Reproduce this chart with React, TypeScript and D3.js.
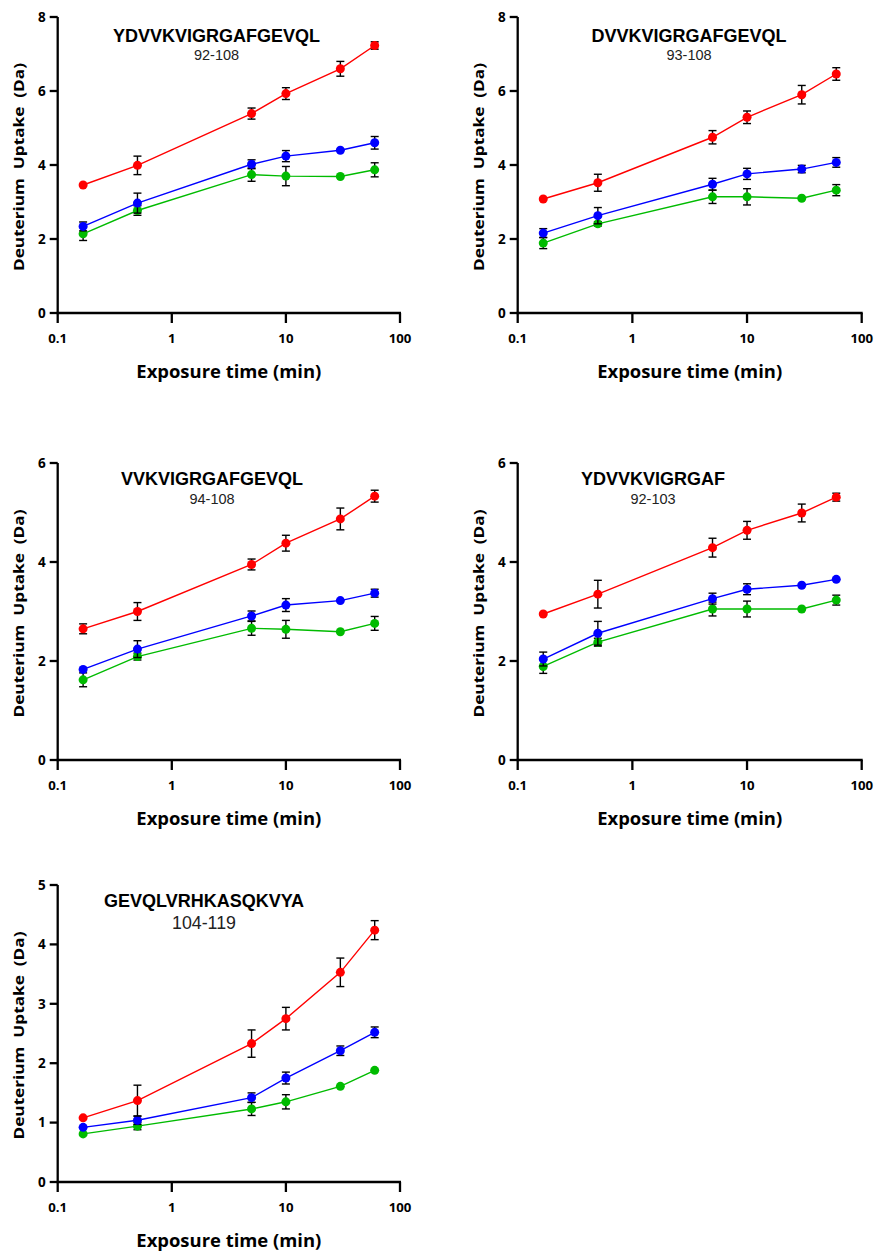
import React from "react";
import * as d3 from "d3";

// ---- data ----
const times = [0.167, 0.5, 5, 10, 30, 60];
const xTickValues = [0.1, 1, 10, 100];
const xTickLabels = ["0.1", "1", "10", "100"];

const titles = ["YDVVKVIGRGAFGEVQL", "DVVKVIGRGAFGEVQL", "VVKVIGRGAFGEVQL", "YDVVKVIGRGAF", "GEVQLVRHKASQKVYA"];
const ranges = ["92-108", "93-108", "94-108", "92-103", "104-119"];
const yMaxes = [8, 8, 6, 6, 5];
const yTickSteps = [2, 2, 2, 2, 1];

const p1Red = [3.46, 3.99, 5.39, 5.93, 6.6, 7.23];
const p1RedErr = [0, 0.25, 0.15, 0.16, 0.2, 0.1];
const p1Blue = [2.34, 2.97, 4.02, 4.24, 4.4, 4.6];
const p1BlueErr = [0.12, 0.27, 0.12, 0.15, 0, 0.17];
const p1Green = [2.14, 2.77, 3.74, 3.7, 3.69, 3.87];
const p1GreenErr = [0.18, 0.13, 0.18, 0.26, 0, 0.19];

const p2Red = [3.08, 3.52, 4.75, 5.29, 5.9, 6.46];
const p2RedErr = [0, 0.23, 0.18, 0.17, 0.25, 0.17];
const p2Blue = [2.16, 2.63, 3.48, 3.76, 3.89, 4.07];
const p2BlueErr = [0.12, 0.22, 0.16, 0.15, 0.1, 0.13];
const p2Green = [1.89, 2.41, 3.14, 3.14, 3.1, 3.32];
const p2GreenErr = [0.15, 0.06, 0.18, 0.22, 0, 0.15];

const p3Red = [2.65, 3.0, 3.95, 4.38, 4.87, 5.33];
const p3RedErr = [0.1, 0.18, 0.11, 0.16, 0.22, 0.12];
const p3Blue = [1.83, 2.24, 2.91, 3.13, 3.22, 3.37];
const p3BlueErr = [0, 0.17, 0.1, 0.13, 0, 0.08];
const p3Green = [1.62, 2.09, 2.66, 2.64, 2.59, 2.76];
const p3GreenErr = [0.14, 0.07, 0.14, 0.18, 0, 0.14];

const p4Red = [2.95, 3.35, 4.29, 4.64, 4.99, 5.31];
const p4RedErr = [0, 0.28, 0.19, 0.18, 0.18, 0.08];
const p4Blue = [2.04, 2.56, 3.26, 3.45, 3.53, 3.65];
const p4BlueErr = [0.14, 0.24, 0.11, 0.11, 0, 0];
const p4Green = [1.89, 2.38, 3.05, 3.05, 3.05, 3.23];
const p4GreenErr = [0.14, 0.08, 0.14, 0.16, 0, 0.1];

const p5Red = [1.08, 1.37, 2.33, 2.75, 3.53, 4.24];
const p5RedErr = [0, 0.26, 0.23, 0.19, 0.24, 0.16];
const p5Blue = [0.92, 1.04, 1.42, 1.75, 2.21, 2.52];
const p5BlueErr = [0, 0.07, 0.08, 0.1, 0.08, 0.09];
const p5Green = [0.81, 0.94, 1.23, 1.35, 1.61, 1.88];
const p5GreenErr = [0, 0.06, 0.11, 0.12, 0, 0];

const panelSeries = [
  [[p1Green, p1GreenErr], [p1Blue, p1BlueErr], [p1Red, p1RedErr]],
  [[p2Green, p2GreenErr], [p2Blue, p2BlueErr], [p2Red, p2RedErr]],
  [[p3Green, p3GreenErr], [p3Blue, p3BlueErr], [p3Red, p3RedErr]],
  [[p4Green, p4GreenErr], [p4Blue, p4BlueErr], [p4Red, p4RedErr]],
  [[p5Green, p5GreenErr], [p5Blue, p5BlueErr], [p5Red, p5RedErr]],
];

// ---- layout & style ----
const seriesColors = ["#00BB00", "#0000FF", "#FF0000"];
const layouts = [
  { left: 57.7, right: 400, top: 17, bottom: 313, titleX: 216.5, titleY: 41.7, subY: 60, subSize: 14.5, titleSize: 18 },
  { left: 517.7, right: 861.7, top: 17, bottom: 313, titleX: 689, titleY: 41.7, subY: 60, subSize: 14.5, titleSize: 18 },
  { left: 57.7, right: 400, top: 463, bottom: 760, titleX: 212, titleY: 485, subY: 504, subSize: 14.5, titleSize: 18 },
  { left: 517.7, right: 861.7, top: 463, bottom: 760, titleX: 653, titleY: 485, subY: 504, subSize: 14.5, titleSize: 18 },
  { left: 57.7, right: 400, top: 885, bottom: 1182, titleX: 204, titleY: 906.5, subY: 929, subSize: 17.8, titleSize: 18 },
];

const tickFont = "'Open Sans', 'DejaVu Sans', sans-serif";
const titleFont = "'Liberation Sans', Arial, sans-serif";

function Panel({ idx }: { idx: number }) {
  const L = layouts[idx];
  const x = d3.scaleLog().domain([0.1, 100]).range([L.left, L.right]);
  const y = d3.scaleLinear().domain([0, yMaxes[idx]]).range([L.bottom, L.top]);
  const yTicks = d3.range(0, yMaxes[idx] + 0.001, yTickSteps[idx]);
  const line = d3
    .line<number>()
    .x((_, i) => x(times[i]))
    .y((d) => y(d));
  const cx = (L.left + L.right) / 2;
  const cy = (L.top + L.bottom) / 2;
  return (
    <g>
      {/* axes */}
      <line x1={L.left} x2={L.left} y1={L.top} y2={L.bottom + 1} stroke="#000" strokeWidth={2.3} />
      <line x1={L.left - 1} x2={L.right + 1} y1={L.bottom} y2={L.bottom} stroke="#000" strokeWidth={2.3} />
      {xTickValues.map((v, i) => (
        <g key={"xt" + i}>
          <line x1={x(v)} x2={x(v)} y1={L.bottom} y2={L.bottom + 10} stroke="#000" strokeWidth={2.3} />
          <text x={x(v)} y={L.bottom + 30} textAnchor="middle" fontFamily={tickFont} fontWeight="bold" fontSize={13.2}>
            {xTickLabels[i]}
          </text>
        </g>
      ))}
      {yTicks.map((v, i) => (
        <g key={"yt" + i}>
          <line x1={L.left - 8} x2={L.left} y1={y(v)} y2={y(v)} stroke="#000" strokeWidth={2.3} />
          <text x={L.left - 12} y={y(v)} dy="0.36em" textAnchor="end" fontFamily={tickFont} fontWeight="bold" fontSize={13.5}>
            {String(v)}
          </text>
        </g>
      ))}
      {/* axis titles */}
      <text
        x={cx}
        y={L.bottom + 65}
        textAnchor="middle"
        fontFamily={tickFont}
        fontWeight="bold"
        fontSize={17.5}
        textLength={185}
        lengthAdjust="spacingAndGlyphs"
      >
        Exposure time (min)
      </text>
      <text
        transform={`translate(${L.left - 34},${cy + 2}) rotate(-90)`}
        textAnchor="middle"
        fontFamily={tickFont}
        fontWeight="bold"
        fontSize={14.5}
        textLength={208}
        lengthAdjust="spacingAndGlyphs"
        style={{ whiteSpace: "pre" }}
      >
        {"Deuterium  Uptake  (Da)"}
      </text>
      {/* titles */}
      <text x={L.titleX} y={L.titleY} textAnchor="middle" fontFamily={titleFont} fontWeight="bold" fontSize={L.titleSize}>
        {titles[idx]}
      </text>
      <text x={L.titleX} y={L.subY} textAnchor="middle" fontFamily={titleFont} fontSize={L.subSize} fill="#222">
        {ranges[idx]}
      </text>
      {/* series */}
      {panelSeries[idx].map(([vals, errs], s) => (
        <g key={"s" + s}>
          <path d={line(vals) || ""} fill="none" stroke={seriesColors[s]} strokeWidth={1.4} />
          {vals.map((v, i) =>
            errs[i] > 0 ? (
              <g key={"e" + i} stroke="#000" strokeWidth={1.4}>
                <line x1={x(times[i])} x2={x(times[i])} y1={y(v - errs[i])} y2={y(v + errs[i])} />
                <line x1={x(times[i]) - 4} x2={x(times[i]) + 4} y1={y(v + errs[i])} y2={y(v + errs[i])} />
                <line x1={x(times[i]) - 4} x2={x(times[i]) + 4} y1={y(v - errs[i])} y2={y(v - errs[i])} />
              </g>
            ) : null
          )}
          {vals.map((v, i) => (
            <circle key={"c" + i} cx={x(times[i])} cy={y(v)} r={4.5} fill={seriesColors[s]} />
          ))}
        </g>
      ))}
    </g>
  );
}

export default function App() {
  return (
    <svg
      width={874}
      height={1255}
      viewBox="0 0 874 1255"
      style={{ position: "absolute", left: 0, top: 0, background: "#fff" }}
    >
      <rect x={0} y={0} width={874} height={1255} fill="#fff" />
      {titles.map((_, i) => (
        <Panel key={i} idx={i} />
      ))}
    </svg>
  );
}
